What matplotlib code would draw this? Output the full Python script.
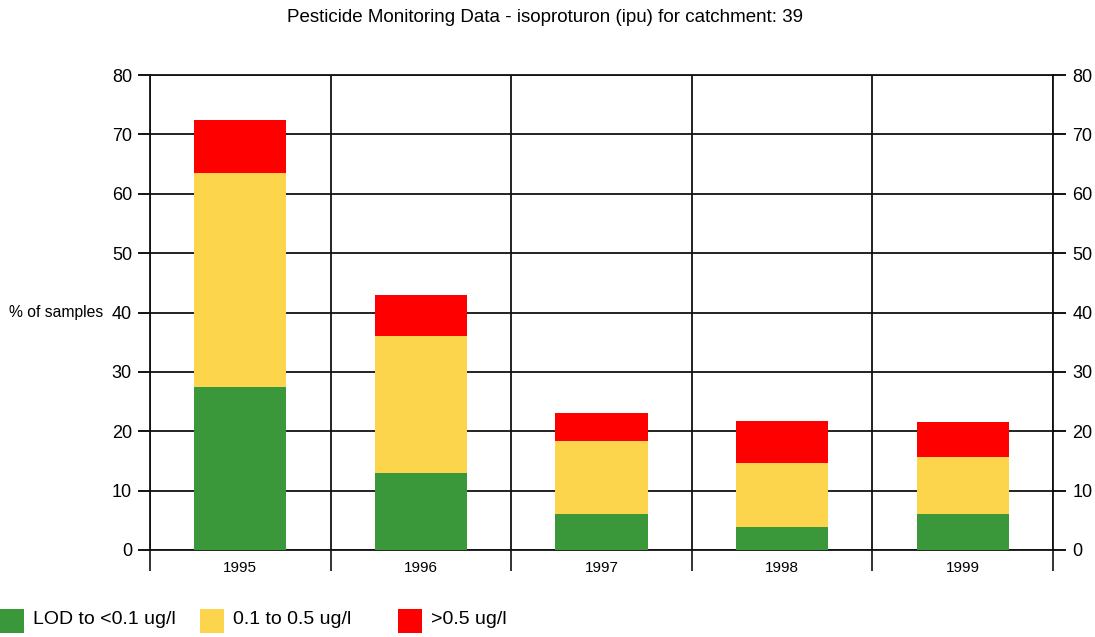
import matplotlib
matplotlib.use("Agg")
import matplotlib.pyplot as plt
from matplotlib.patches import Rectangle
import numpy as np

plt.rcParams['font.family'] = ['Liberation Sans', 'DejaVu Sans']

years = ['1995', '1996', '1997', '1998', '1999']
lod = [27.5, 12.9, 6.0, 3.8, 6.0]          # LOD to <0.1 ug/l
mid = [36.0, 23.2, 12.4, 10.9, 9.7]        # 0.1 to 0.5 ug/l
high = [8.9, 6.9, 4.7, 7.1, 5.9]           # >0.5 ug/l
labels = ['LOD to <0.1 ug/l', '0.1 to 0.5 ug/l', '>0.5 ug/l']
colors = ['#3a983a', '#fdd54d', '#ff0000']

fig = plt.figure(figsize=(10.95, 6.37), dpi=100)
ax = fig.add_axes([150/1095, 87/637, 903/1095, 475/637])

x = np.arange(len(years))
lod = np.array(lod); mid = np.array(mid); high = np.array(high)
ax.bar(x, lod, width=0.51, color=colors[0], zorder=3)
ax.bar(x, mid, width=0.51, bottom=lod, color=colors[1], zorder=3)
ax.bar(x, high, width=0.51, bottom=lod + mid, color=colors[2], zorder=3)

ax.set_xlim(-0.5, len(years) - 0.5)
ax.set_ylim(0, 80)
ax.set_yticks(range(0, 81, 10))
ax.set_xticks(np.arange(-0.5, len(years)), minor=False)
ax.set_xticklabels([])
ax.set_xticks(x, minor=True)
ax.set_xticklabels(years, minor=True, fontsize=11)
ax.tick_params(axis='x', which='major', length=15, width=1.3, color='#222222')
ax.tick_params(axis='x', which='minor', length=0, pad=8)
ax.tick_params(axis='y', length=9, width=1.3, labelsize=13, pad=4)
ax.grid(True, which='major', color='#111111', linewidth=1.3, zorder=1)
for s in ax.spines.values():
    s.set_linewidth(1.3)
    s.set_color('#111111')

ax2 = ax.twinx()
ax2.set_ylim(0, 80)
ax2.set_yticks(range(0, 81, 10))
ax2.tick_params(axis='y', length=9, width=1.3, labelsize=13, pad=5)
for s in ax2.spines.values():
    s.set_visible(False)

fig.text(545/1095, 1 - 18/637, 'Pesticide Monitoring Data - isoproturon (ipu) for catchment: 39',
         ha='center', va='center', fontsize=13.5)
fig.text(9/1095, 1 - 313/637, '% of samples', ha='left', va='center', fontsize=11.3)

# legend
leg_x = [0, 200, 398]
for lx, c, lab in zip(leg_x, colors, labels):
    fig.add_artist(Rectangle((lx/1095, (637-633)/637), 24/1095, 24/637,
                             transform=fig.transFigure, facecolor=c, edgecolor='none'))
    fig.text((lx + 33)/1095, 1 - 620/637, lab, ha='left', va='center', fontsize=14)

fig.savefig('out.png', dpi=100)
